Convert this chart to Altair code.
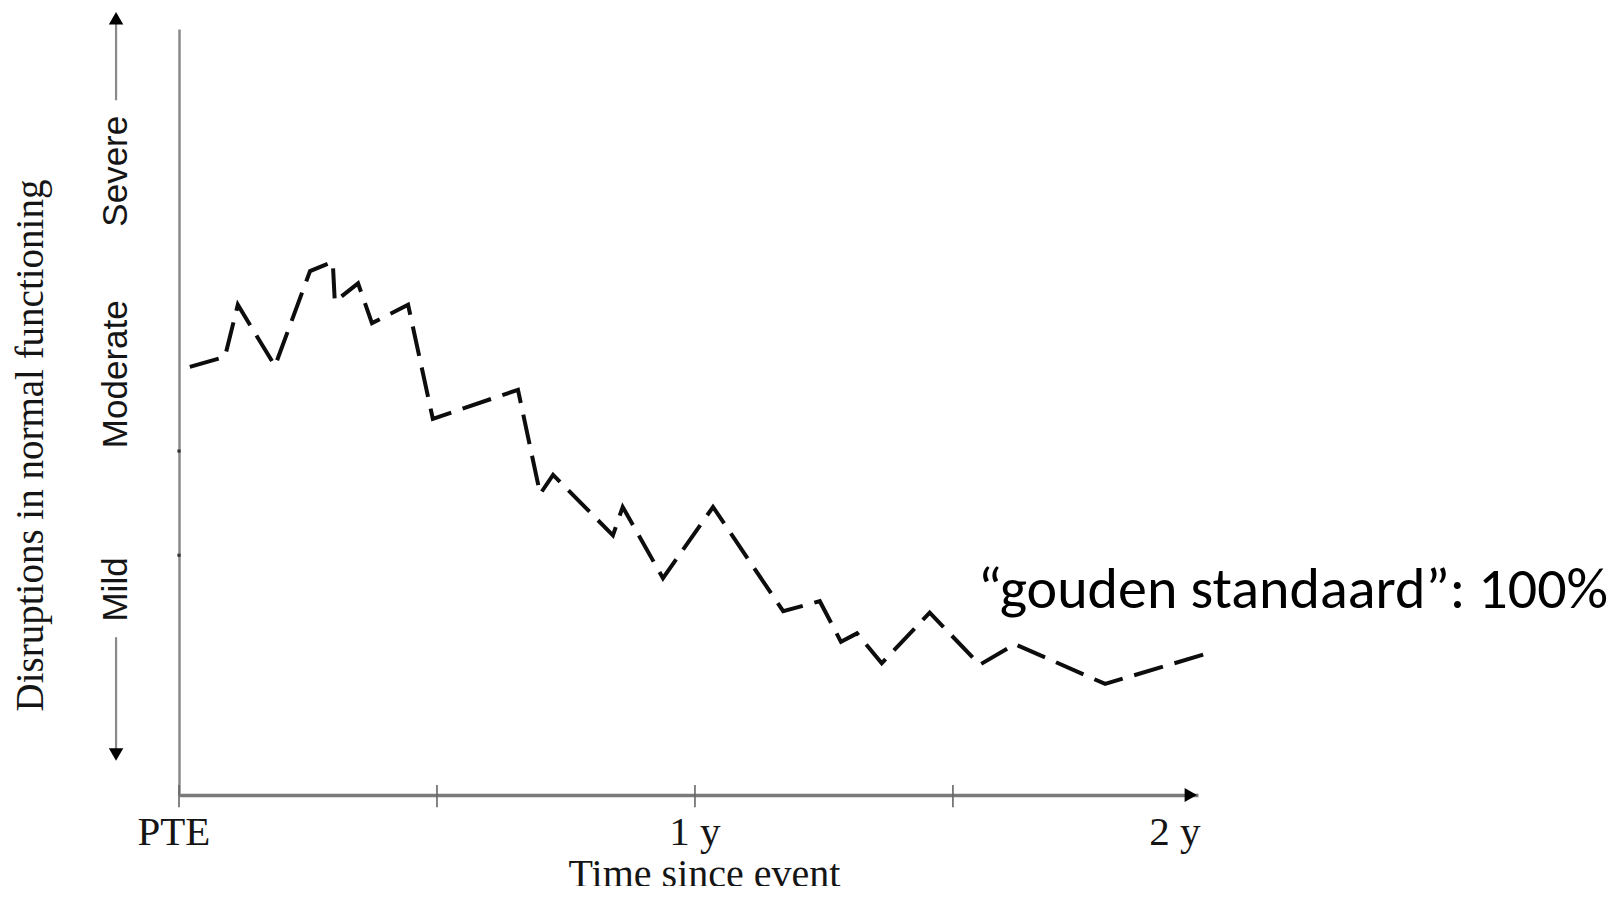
import altair as alt
import pandas as pd

# ---- data ----
time_years = [0.021, 0.089, 0.114, 0.186, 0.254, 0.298, 0.302, 0.347, 0.374, 0.444,
              0.492, 0.657, 0.700, 0.725, 0.841, 0.860, 0.938, 1.035, 1.171, 1.242,
              1.283, 1.314, 1.362, 1.455, 1.552, 1.620, 1.795, 1.994]
disruption = [55.9, 57.2, 64.0, 56.0, 68.4, 69.6, 64.4, 66.8, 61.6, 64.0,
              49.1, 52.9, 39.3, 41.8, 33.9, 37.6, 28.3, 37.6, 24.0, 25.3,
              20.0, 21.1, 17.2, 23.8, 17.0, 19.7, 14.5, 18.5]

x_tick_values = [0.0, 0.5, 1.0, 1.5]
x_tick_top = 1.3
x_tick_bottom = -1.6
x_label_text = ["PTE", "1 y", "2 y"]
x_label_pos = [-0.01, 1.0, 1.93]

y_label_text = ["Severe", "Moderate", "Mild"]
y_label_pos = [81.5, 55.0, 26.9]

# severity arrow beside the labels (in data units)
arrow_x = -0.122
arrow_seg_start = [90.7, 20.6]
arrow_seg_end = [101.4, 5.3]
arrow_head_shape = ["triangle-up", "triangle-down"]

speck_y = [44.9, 31.3]

x_arrow_tip = 1.961

note_text = "\u201cgouden standaard\u201d: 100%"
note_x = 1.548
note_y = 24.4

# ---- build ----
xs = alt.Scale(domain=[0, 1.975], nice=False, zero=False)
ys = alt.Scale(domain=[0, 100], nice=False, zero=False)

line_df = pd.DataFrame({"t": time_years, "v": disruption, "i": list(range(len(time_years)))})

label_expr = ""
for val, txt in zip(y_label_pos[:-1], y_label_text[:-1]):
    label_expr += f"datum.value == {val} ? '{txt}' : "
label_expr += f"'{y_label_text[-1]}'"

serif = "Liberation Serif"
sans = "Liberation Sans"
ink = "#151515"

line = alt.Chart(line_df).mark_line(
    strokeDash=[30, 12], strokeWidth=4, color="#0d0d0d", strokeCap="butt", strokeJoin="miter"
).encode(
    x=alt.X("t:Q", scale=xs, axis=alt.Axis(
        values=x_tick_values, labels=False, ticks=False,
        domainColor="#7a7a7a", domainWidth=3.5, grid=False,
        title="Time since event", titleFont=serif, titleFontSize=40, titleFontWeight="normal",
        titleColor=ink, titleX=525, titleY=91, titleAlign="center", titleBaseline="alphabetic")),
    y=alt.Y("v:Q", scale=ys, axis=alt.Axis(
        values=y_label_pos, labelExpr=label_expr, labelAngle=270, labelAlign="center",
        labelBaseline="alphabetic", labelFont=sans, labelFontSize=35, labelColor=ink,
        labelPadding=53, ticks=False, tickSize=0, domainColor="#8a8a8a", domainWidth=2.5,
        grid=False, title="Disruptions in normal functioning", titleFont=serif,
        titleFontSize=39, titleFontWeight="normal", titleColor=ink, titleAngle=270,
        titleAlign="center", titleBaseline="alphabetic", titleX=-137, titleY=416)),
    order="i:Q",
)

ticks = alt.Chart(pd.DataFrame({"p": x_tick_values})).mark_rule(
    color="#666", strokeWidth=1.6
).encode(x=alt.X("p:Q", scale=xs), y=alt.datum(x_tick_top), y2=alt.datum(x_tick_bottom))

xlab_df = pd.DataFrame({"p": x_label_pos, "txt": x_label_text})
xlabels = alt.Chart(xlab_df).mark_text(
    font=serif, fontSize=41, color=ink, baseline="alphabetic", align="center", dy=50
).encode(x=alt.X("p:Q", scale=xs), y=alt.datum(0), text="txt:N")

xarrow = alt.Chart(pd.DataFrame({"p": [x_arrow_tip]})).mark_point(
    shape="triangle-right", filled=True, color="#000", size=200, opacity=1
).encode(x=alt.X("p:Q", scale=xs), y=alt.datum(0))

yarr_df = pd.DataFrame({"x": [arrow_x, arrow_x], "a": arrow_seg_start, "b": arrow_seg_end,
                        "shape": arrow_head_shape})
yrules = alt.Chart(yarr_df).mark_rule(color="#8a8a8a", strokeWidth=2.2).encode(
    x=alt.X("x:Q", scale=xs), y=alt.Y("a:Q", scale=ys), y2="b:Q")
yheads = alt.Chart(yarr_df).mark_point(filled=True, color="#000", size=210, opacity=1).encode(
    x=alt.X("x:Q", scale=xs), y=alt.Y("b:Q", scale=ys),
    shape=alt.Shape("shape:N", scale=None))

specks = alt.Chart(pd.DataFrame({"y": speck_y})).mark_point(
    shape="square", filled=True, color="#333", size=10, opacity=1
).encode(x=alt.datum(0), y=alt.Y("y:Q", scale=ys))

note = alt.Chart(pd.DataFrame({"x": [note_x], "y": [note_y], "txt": [note_text]})).mark_text(
    font="Carlito, Lato", fontSize=58, color="#000", align="left", baseline="alphabetic"
).encode(x=alt.X("x:Q", scale=xs), y=alt.Y("y:Q", scale=ys), text="txt:N")

chart = alt.layer(line, ticks, xlabels, xarrow, yrules, yheads, specks, note).properties(
    width=1019, height=766,
    padding={"left": 171, "top": 21, "right": 415, "bottom": 91},
    autosize=alt.AutoSizeParams(type="none"),
    background="white",
).configure_view(stroke=None)

chart.save("out.html", embed_options={"renderer": "svg", "actions": False})
